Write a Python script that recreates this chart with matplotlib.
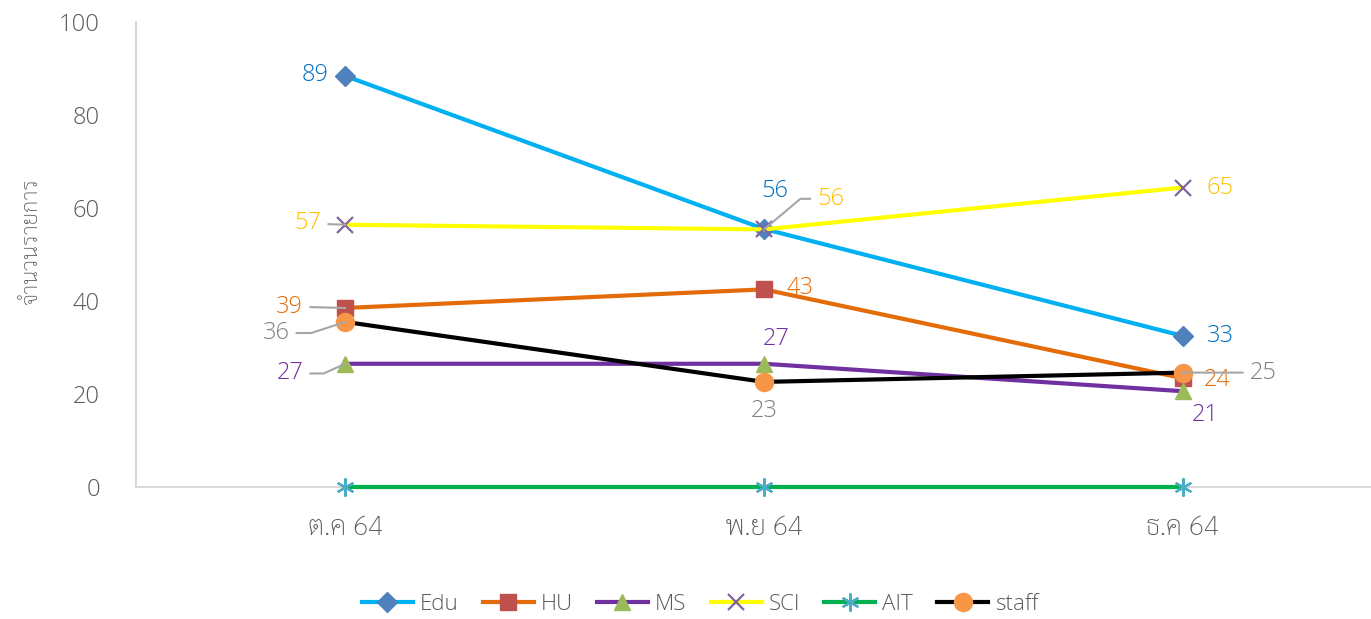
import numpy as np
import matplotlib
matplotlib.use("Agg")
from matplotlib import pyplot as plt
from matplotlib import font_manager

# data
months = ["ต.ค 64", "พ.ย 64", "ธ.ค 64"]
series = ["Edu", "HU", "MS", "SCI", "AIT", "staff"]
edu = [88.4, 55.5, 32.5]
hu = [38.5, 42.5, 23.4]
ms = [26.5, 26.5, 20.6]
sci = [56.4, 55.4, 64.4]
ait = [0, 0, 0]
staff = [35.5, 22.6, 24.6]
edu_lbl = [89, 56, 33]
hu_lbl = [39, 43, 24]
ms_lbl = [27, 27, 21]
sci_lbl = [57, 56, 65]
staff_lbl = [36, 23, 25]


def pickFont(names, default="DejaVu Sans"):
    have = {f.name for f in font_manager.fontManager.ttflist}
    for n in names:
        if n in have:
            return n
    return default


thaiFont = pickFont(["Sarabun", "Anuphan", "Athiti", "Noto Sans Thai", "Noto Sans Thai Looped"])
latinFont = pickFont(["Open Sans", "Noto Sans", "Lato"])
plt.rcParams["font.family"] = [latinFont, thaiFont, "DejaVu Sans"]
plt.rcParams["font.weight"] = "light"

GREY = "#595959"
LEADER = "#a6a6a6"

fig = plt.figure(figsize=(13.71, 6.19), dpi=100)
ax = fig.add_axes([136 / 1371, 132 / 619, 1256 / 1371, 465 / 619])
x = np.arange(len(months))

styles = [
    (edu, "#00b0f0", "D", "#4f81bd", 10),
    (hu, "#e36c09", "s", "#c0504d", 11),
    (ms, "#7030a0", "^", "#9bbb59", 12),
    (sci, "#ffff00", "x", "#8064a2", 11),
    (ait, "#00b050", (6, 2, 0), "#4bacc6", 13),
    (staff, "#000000", "o", "#f79646", 13),
]
for name, (vals, lc, mk, mc, msz) in zip(series, styles):
    ax.plot(x, vals, color=lc, lw=3, marker=mk, ms=msz, mfc=mc, mec=mc,
            mew=1.6 if mk in ("x", (6, 2, 0)) else 1, label=name, clip_on=False, zorder=3)

# data labels: values, labels, colour, offsets in points, leader angle (None = no leader)
labelSpecs = [
    (edu, edu_lbl, "#0070c0", [(-22, 1), (8, 27), (27, 0)], [None, None, None]),
    (hu, hu_lbl, "#e36c09", [(-40, 1), (26, 1), (25, -1)], [0, None, None]),
    (ms, ms_lbl, "#7030a0", [(-40, -7), (9, 18), (16, -17)], [24, None, None]),
    (sci, sci_lbl, "#ffc000", [(-27, 1), (48, 22), (27, 0)], [0, 40, None]),
    (staff, staff_lbl, "#808080", [(-50, -8), (0, -21), (58, 0)], [18, None, 0]),
]
for vals, lbls, col, offs, leaders in labelSpecs:
    for i, (v, t, off, ang) in enumerate(zip(vals, lbls, offs, leaders)):
        props = None
        if ang is not None:
            props = dict(arrowstyle="-", color=LEADER, lw=1.5, shrinkA=3, shrinkB=0)
            if ang == 0:
                props["connectionstyle"] = "arc3"
            else:
                props["connectionstyle"] = "angle,angleA=0,angleB=%d,rad=0" % ang
        ax.annotate(str(t), (x[i], v), xytext=off, textcoords="offset points",
                    ha="center", va="center", fontsize=17, color=col,
                    arrowprops=props, zorder=5)

ax.set_xlim(-0.5, 2.5)
ax.set_ylim(0, 100)
ax.set_yticks(range(0, 101, 20))
ax.set_xticks(x)
ax.set_xticklabels(months, fontsize=20, color=GREY, family=[thaiFont, "DejaVu Sans"],
                   fontweight="light")
ax.tick_params(axis="y", length=0, pad=26, labelsize=17, labelcolor=GREY)
ax.tick_params(axis="x", length=0, pad=20)
for s in ["top", "right"]:
    ax.spines[s].set_visible(False)
for s in ["left", "bottom"]:
    ax.spines[s].set_color("#d9d9d9")
    ax.spines[s].set_linewidth(1.5)
ax.set_ylabel("จำนวนรายการ", fontsize=16, color=GREY, family=[thaiFont, "DejaVu Sans"],
              fontweight="light", labelpad=12)
ax.yaxis.label.set_y(0.527)

fig.legend(loc="center", bbox_to_anchor=(700 / 1371, 1 - 604 / 619), ncol=6, frameon=False,
           fontsize=16, labelcolor=GREY, handlelength=2.3, handletextpad=0.3, columnspacing=1.1)

fig.savefig("out.png")
